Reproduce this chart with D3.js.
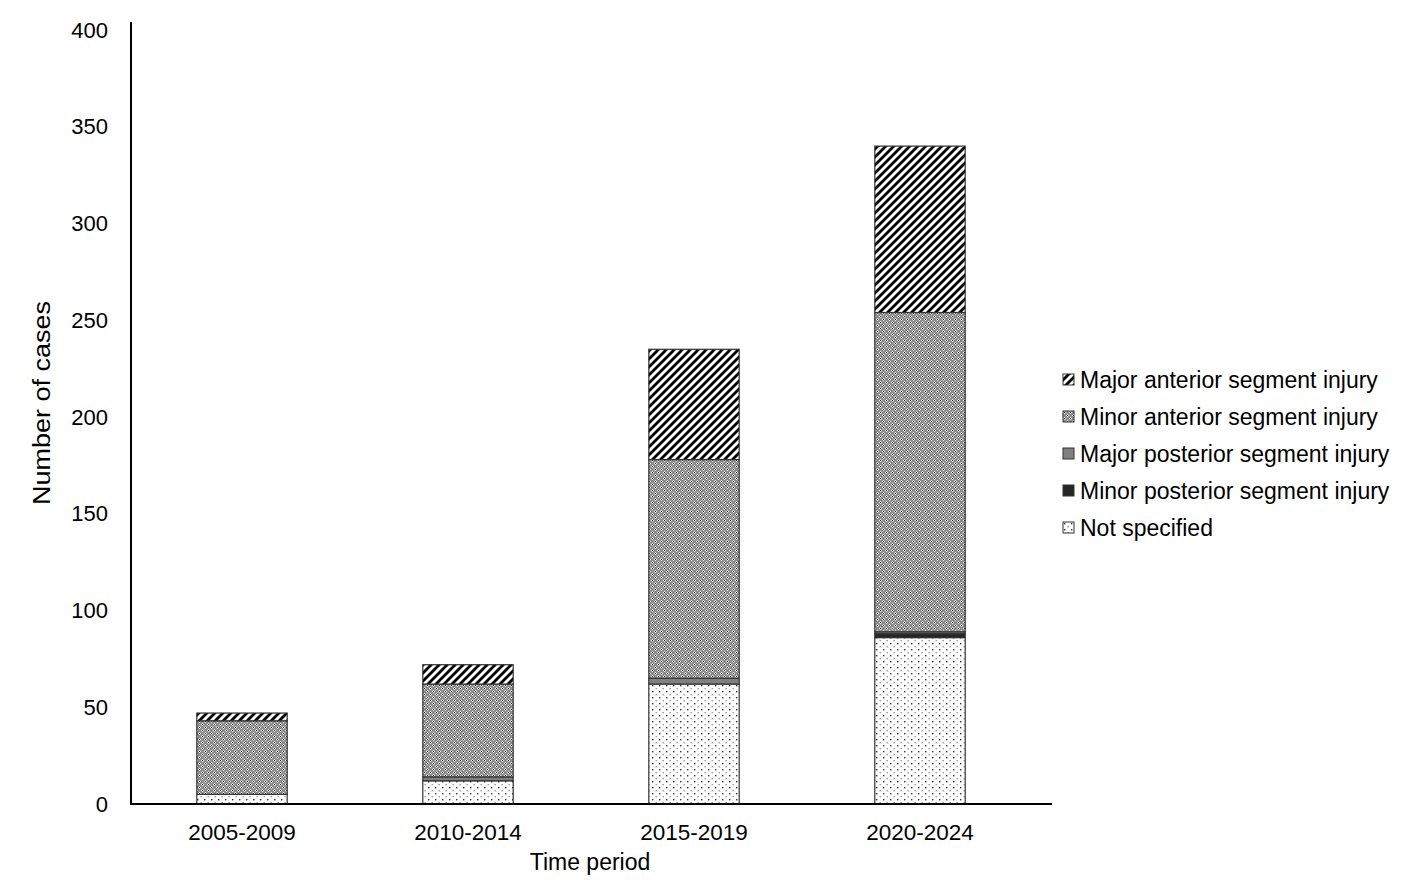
<!DOCTYPE html>
<html>
<head>
<meta charset="utf-8">
<script src="https://cdn.jsdelivr.net/npm/d3@7"></script>
<style>
  body { margin: 0; background: #fff; }
  text { font-family: Arial, "Liberation Sans", sans-serif; fill: #000; }
</style>
</head>
<body>
<div id="chart"></div>
<script>
// data
var periods = ['2005-2009', '2010-2014', '2015-2019', '2020-2024']
var notSpecified = [5, 12, 62, 86]
var minorPosterior = [0, 0, 0, 2]
var majorPosterior = [0, 2, 3, 1]
var minorAnterior = [38, 48, 113, 165]
var majorAnterior = [4, 10, 57, 86]
var yTicks = [0, 50, 100, 150, 200, 250, 300, 350, 400]

// stacking order bottom -> top
var seriesKeys = ['ns', 'minpost', 'majpost', 'minant', 'majant']
var seriesNames = {
    majant: 'Major anterior segment injury',
    minant: 'Minor anterior segment injury',
    majpost: 'Major posterior segment injury',
    minpost: 'Minor posterior segment injury',
    ns: 'Not specified'
}
var legendOrder = ['majant', 'minant', 'majpost', 'minpost', 'ns']

var table = periods.map((p, i) => ({
    period: p,
    ns: notSpecified[i],
    minpost: minorPosterior[i],
    majpost: majorPosterior[i],
    minant: minorAnterior[i],
    majant: majorAnterior[i]
}))

var width = 1406, height = 880
var svg = d3.select('#chart').append('svg')
    .attr('width', width)
    .attr('height', height)

//Patterns
var defs = svg.append('defs')

// wide upward diagonal
var pStripe = defs.append('pattern')
    .attr('id', 'pat-majant')
    .attr('patternUnits', 'userSpaceOnUse')
    .attr('width', 8).attr('height', 8)
pStripe.append('rect').attr('width', 8).attr('height', 8).attr('fill', '#fff')
pStripe.append('path')
    .attr('d', 'M-2,2 L2,-2 M0,8 L8,0 M6,10 L10,6')
    .attr('stroke', '#000').attr('stroke-width', 2.8)

// dotted grey (minor anterior)
var pDiam = defs.append('pattern')
    .attr('id', 'pat-minant')
    .attr('patternUnits', 'userSpaceOnUse')
    .attr('width', 6).attr('height', 6)
pDiam.append('rect').attr('width', 6).attr('height', 6).attr('fill', '#8c8c8c')
var whiteDots = [[1, 0], [0, 1], [2, 1], [1, 2], [4, 3], [3, 4], [5, 4], [4, 5]]
whiteDots.forEach(p => {
    pDiam.append('rect').attr('x', p[0]).attr('y', p[1]).attr('width', 1).attr('height', 1).attr('fill', '#f2f2f2')
})
pDiam.append('rect').attr('x', 1).attr('y', 1).attr('width', 1).attr('height', 1).attr('fill', '#111')
pDiam.append('rect').attr('x', 4).attr('y', 4).attr('width', 1).attr('height', 1).attr('fill', '#111')

// sparse dots (not specified)
var pDots = defs.append('pattern')
    .attr('id', 'pat-ns')
    .attr('patternUnits', 'userSpaceOnUse')
    .attr('width', 7).attr('height', 6)
pDots.append('rect').attr('width', 7).attr('height', 6).attr('fill', '#fff')
pDots.append('rect').attr('x', 1).attr('y', 1).attr('width', 1.4).attr('height', 1.4).attr('fill', '#333')
pDots.append('rect').attr('x', 4.5).attr('y', 4).attr('width', 1.4).attr('height', 1.4).attr('fill', '#999')

var fills = {
    majant: 'url(#pat-majant)',
    minant: 'url(#pat-minant)',
    majpost: '#808080',
    minpost: '#262626',
    ns: 'url(#pat-ns)'
}

//Scales
var x = d3.scaleBand()
    .domain(periods)
    .range([129, 1033])
    .paddingInner(0.6)
    .paddingOuter(0.3)

var y = d3.scaleLinear()
    .domain([0, 400])
    .range([804, 30])

var stack = d3.stack().keys(seriesKeys)
var layers = stack(table)

//Bars
svg.append('g')
    .selectAll('g')
    .data(layers)
    .join('g')
    .attr('fill', d => fills[d.key])
    .selectAll('rect')
    .data(d => d.filter(e => e[1] - e[0] > 0))
    .join('rect')
    .attr('x', d => x(d.data.period))
    .attr('width', x.bandwidth())
    .attr('y', d => y(d[1]))
    .attr('height', d => y(d[0]) - y(d[1]))
    .attr('stroke', '#333')
    .attr('stroke-width', 1.2)

//Y axis
var yAxis = d3.axisLeft(y).tickValues(yTicks).tickSize(0).tickPadding(23)
var gy = svg.append('g')
    .attr('transform', 'translate(131,0)')
    .call(yAxis)
gy.select('.domain').remove()
gy.selectAll('text').style('font-size', '22px').attr('font-family', null)
svg.append('line')
    .attr('x1', 131).attr('x2', 131)
    .attr('y1', 22).attr('y2', 805)
    .attr('stroke', '#000').attr('stroke-width', 2)

//X axis
var xAxis = d3.axisBottom(x).tickSize(0).tickPadding(20)
var gx = svg.append('g')
    .attr('transform', 'translate(0,804)')
    .call(xAxis)
gx.select('.domain').remove()
gx.selectAll('text').style('font-size', '22.5px').attr('font-family', null)
svg.append('line')
    .attr('x1', 130).attr('x2', 1052)
    .attr('y1', 804).attr('y2', 804)
    .attr('stroke', '#000').attr('stroke-width', 2)

//Axis titles
svg.append('text')
    .attr('x', 590).attr('y', 870)
    .attr('text-anchor', 'middle')
    .style('font-size', '23px')
    .text('Time period')

svg.append('text')
    .attr('transform', 'translate(50,403) rotate(-90)')
    .attr('text-anchor', 'middle')
    .attr('textLength', 204)
    .attr('lengthAdjust', 'spacingAndGlyphs')
    .style('font-size', '23px')
    .text('Number of cases')

//Legend
var legend = svg.append('g')
    .selectAll('g')
    .data(legendOrder)
    .join('g')
    .attr('transform', (d, i) => `translate(1063,${380 + i * 37})`)

legend.append('rect')
    .attr('x', 0).attr('y', -6)
    .attr('width', 11).attr('height', 11)
    .attr('fill', d => fills[d])
    .attr('stroke', '#333')
    .attr('stroke-width', 1)

legend.append('text')
    .attr('x', 17).attr('y', 8)
    .style('font-size', '23px')
    .text(d => seriesNames[d])
</script>
</body>
</html>
